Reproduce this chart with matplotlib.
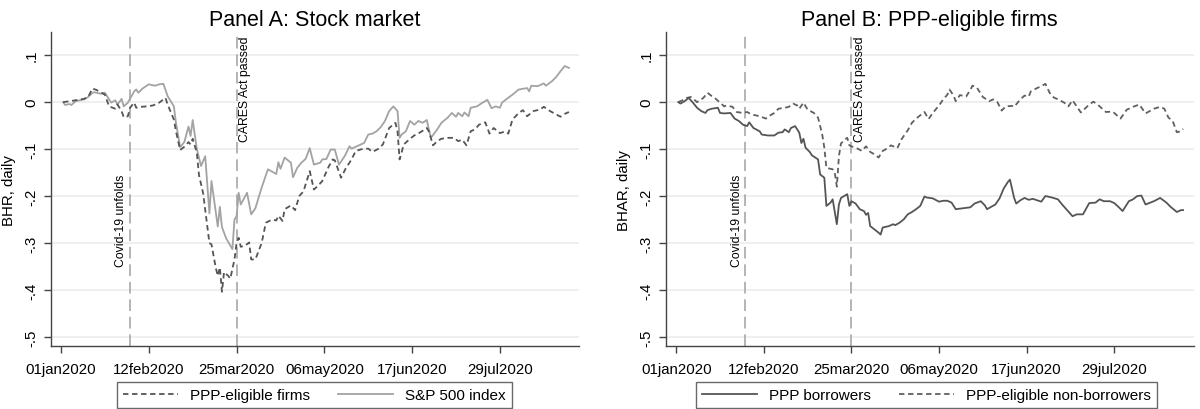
import numpy as np
import pandas as pd
import matplotlib
matplotlib.use("Agg")
import matplotlib.pyplot as plt

plt.rcParams['font.family'] = ['Liberation Sans', 'DejaVu Sans']

# days are counted from 01jan2020
start = pd.Timestamp('2020-01-01')
covid_day = 33
cares_day = 84
tick_days = [0, 42, 84, 126, 168, 210]
ytick_vals = [-0.5, -0.4, -0.3, -0.2, -0.1, 0.0, 0.1]
ytick_labels = ['-.5', '-.4', '-.3', '-.2', '-.1', '0', '.1']

# Panel A: S&P 500 index
sp_days = [1, 2, 4, 5, 7, 9, 11, 13, 15, 16, 19, 21, 23, 24, 26, 27, 29, 30, 32, 33,
           35, 36, 37, 39, 42, 45, 47, 49, 51, 54, 55, 57, 59, 61, 62, 63, 65, 67, 69, 71,
           72, 75, 76, 77, 79, 82, 83, 84, 85, 86, 89, 91, 93, 96, 99, 103, 104, 105, 107, 110,
           111, 113, 115, 117, 119, 121, 124, 125, 127, 129, 131, 133, 136, 138, 139, 141, 145, 147, 149, 151,
           153, 155, 157, 159, 161, 162, 163, 165, 167, 169, 171, 173, 175, 176, 177, 180, 182, 185, 187, 189,
           190, 192, 193, 195, 196, 199, 201, 204, 206, 208, 210, 211, 213, 216, 219, 223, 224, 225, 228, 231,
           232, 235, 237, 239, 241, 243]
sp_vals = [0.000, -0.006, -0.004, -0.006, 0.002, 0.004, 0.006, 0.011, 0.020, 0.021, 0.018, 0.020, 0.006, -0.001, 0.004, -0.005, 0.007, -0.009, -0.001, 0.007,
           0.023, 0.027, 0.020, 0.029, 0.038, 0.035, 0.038, 0.039, 0.013, -0.009, -0.044, -0.096, -0.085, -0.052, -0.072, -0.038, -0.100, -0.136, -0.115, -0.237,
           -0.168, -0.265, -0.223, -0.266, -0.290, -0.313, -0.250, -0.243, -0.193, -0.218, -0.193, -0.239, -0.226, -0.182, -0.143, -0.153, -0.128, -0.142, -0.118, -0.129,
           -0.160, -0.140, -0.129, -0.121, -0.098, -0.133, -0.129, -0.122, -0.121, -0.101, -0.101, -0.133, -0.113, -0.094, -0.099, -0.095, -0.087, -0.069, -0.067, -0.062,
           -0.053, -0.040, -0.019, -0.009, -0.019, -0.076, -0.069, -0.062, -0.040, -0.048, -0.040, -0.044, -0.038, -0.058, -0.076, -0.058, -0.044, -0.033, -0.023, -0.031,
           -0.023, -0.030, -0.022, -0.030, -0.012, -0.009, -0.003, 0.005, -0.013, -0.009, -0.012, -0.001, 0.006, 0.016, 0.027, 0.030, 0.023, 0.035, 0.034, 0.040,
           0.035, 0.045, 0.054, 0.066, 0.077, 0.073]

# Panel A: PPP-eligible firms
elig_days = [1, 4, 7, 11, 13, 15, 17, 19, 21, 23, 26, 27, 29, 30, 32, 33, 35, 36, 38, 41,
             44, 47, 50, 51, 54, 55, 57, 59, 61, 62, 63, 65, 66, 68, 71, 72, 74, 75, 76, 77,
             78, 80, 81, 83, 84, 85, 86, 88, 90, 91, 93, 96, 98, 101, 103, 104, 106, 107, 110, 112,
             114, 116, 119, 121, 123, 125, 128, 130, 131, 134, 136, 139, 141, 144, 147, 149, 152, 154, 157, 160,
             161, 162, 164, 167, 169, 172, 175, 176, 178, 180, 182, 185, 188, 190, 192, 194, 196, 198, 200, 203,
             205, 207, 210, 212, 214, 216, 219, 221, 223, 226, 229, 231, 234, 236, 239, 241, 243]
elig_vals = [0.000, 0.002, 0.004, 0.007, 0.011, 0.029, 0.026, 0.021, 0.016, -0.009, -0.014, -0.005, -0.019, -0.032, -0.030, -0.012, -0.001, -0.012, -0.010, -0.009,
             -0.007, -0.001, 0.009, -0.005, -0.037, -0.062, -0.102, -0.095, -0.085, -0.090, -0.078, -0.108, -0.155, -0.194, -0.300, -0.303, -0.352, -0.370, -0.352, -0.404,
             -0.362, -0.370, -0.376, -0.335, -0.300, -0.289, -0.308, -0.306, -0.299, -0.335, -0.335, -0.300, -0.257, -0.250, -0.252, -0.242, -0.253, -0.228, -0.220, -0.230,
             -0.200, -0.190, -0.147, -0.186, -0.178, -0.168, -0.138, -0.122, -0.124, -0.161, -0.143, -0.122, -0.104, -0.100, -0.099, -0.106, -0.099, -0.090, -0.055, -0.044,
             -0.062, -0.122, -0.090, -0.078, -0.071, -0.064, -0.055, -0.062, -0.092, -0.083, -0.078, -0.076, -0.076, -0.083, -0.080, -0.092, -0.062, -0.058, -0.048, -0.043,
             -0.067, -0.055, -0.066, -0.063, -0.067, -0.037, -0.023, -0.017, -0.030, -0.019, -0.016, -0.010, -0.019, -0.024, -0.031, -0.025, -0.021]

# Panel B: PPP borrowers
borr_days = [1, 2, 4, 6, 8, 10, 12, 14, 15, 17, 20, 21, 23, 26, 28, 30, 32, 34, 35, 37,
             40, 41, 44, 47, 49, 51, 52, 54, 55, 57, 59, 60, 61, 62, 64, 65, 68, 69, 71, 72,
             74, 75, 77, 78, 79, 82, 83, 84, 86, 88, 90, 91, 92, 93, 95, 97, 98, 99, 102, 104,
             105, 107, 109, 111, 113, 115, 117, 119, 120, 123, 126, 128, 130, 132, 134, 141, 143, 146, 148, 149,
             153, 155, 157, 159, 160, 162, 163, 165, 167, 169, 171, 173, 175, 177, 180, 183, 185, 187, 190, 192,
             195, 197, 198, 201, 203, 205, 208, 210, 212, 214, 217, 219, 221, 223, 225, 229, 232, 235, 237, 240,
             242, 243]
borr_vals = [0.000, -0.003, 0.002, 0.009, -0.001, -0.012, -0.019, -0.023, -0.017, -0.014, -0.012, -0.023, -0.024, -0.023, -0.035, -0.040, -0.048, -0.051, -0.043, -0.055,
             -0.062, -0.069, -0.071, -0.071, -0.065, -0.064, -0.058, -0.064, -0.055, -0.051, -0.065, -0.087, -0.078, -0.097, -0.106, -0.113, -0.122, -0.154, -0.161, -0.221,
             -0.214, -0.207, -0.260, -0.218, -0.204, -0.196, -0.221, -0.211, -0.216, -0.228, -0.232, -0.240, -0.236, -0.264, -0.271, -0.278, -0.282, -0.267, -0.264, -0.260,
             -0.262, -0.257, -0.250, -0.239, -0.234, -0.228, -0.221, -0.201, -0.203, -0.205, -0.212, -0.210, -0.210, -0.214, -0.228, -0.224, -0.216, -0.211, -0.220, -0.228,
             -0.218, -0.205, -0.184, -0.170, -0.165, -0.204, -0.216, -0.209, -0.204, -0.208, -0.206, -0.209, -0.212, -0.200, -0.203, -0.207, -0.218, -0.228, -0.243, -0.239,
             -0.239, -0.223, -0.215, -0.214, -0.207, -0.211, -0.211, -0.215, -0.223, -0.232, -0.211, -0.207, -0.200, -0.199, -0.218, -0.211, -0.204, -0.214, -0.223, -0.234,
             -0.230, -0.230]

# Panel B: PPP-eligible non-borrowers
nonb_days = [1, 3, 5, 7, 9, 10, 13, 15, 17, 19, 21, 23, 24, 27, 29, 32, 34, 36, 38, 40,
             43, 44, 47, 49, 52, 54, 56, 58, 59, 61, 63, 66, 68, 70, 71, 72, 75, 76, 77, 78,
             79, 81, 82, 83, 84, 87, 89, 91, 93, 95, 97, 99, 101, 103, 106, 108, 111, 113, 115, 117,
             119, 121, 123, 126, 128, 130, 131, 133, 134, 136, 139, 141, 142, 144, 147, 150, 152, 154, 156, 158,
             161, 162, 165, 167, 169, 170, 173, 175, 177, 179, 181, 183, 186, 188, 190, 192, 194, 195, 198, 200,
             202, 204, 206, 209, 210, 213, 216, 219, 222, 225, 229, 232, 234, 236, 238, 240, 242, 243]
nonb_vals = [0.000, 0.004, 0.009, 0.011, 0.004, 0.000, 0.009, 0.020, 0.013, 0.007, -0.001, -0.009, -0.007, -0.010, -0.021, -0.023, -0.021, -0.026, -0.028, -0.030,
             -0.035, -0.031, -0.023, -0.014, -0.012, -0.010, -0.003, -0.007, -0.014, -0.001, -0.016, -0.023, -0.033, -0.069, -0.097, -0.140, -0.143, -0.150, -0.180, -0.115,
             -0.088, -0.079, -0.076, -0.092, -0.094, -0.099, -0.104, -0.094, -0.106, -0.111, -0.118, -0.104, -0.099, -0.092, -0.098, -0.079, -0.060, -0.044, -0.035, -0.028,
             -0.021, -0.036, -0.023, -0.007, 0.006, 0.016, 0.027, 0.014, 0.002, 0.015, 0.012, 0.026, 0.035, 0.032, 0.011, 0.002, 0.006, 0.000, -0.018, -0.009,
             -0.008, -0.010, 0.006, 0.014, 0.012, 0.023, 0.030, 0.034, 0.039, 0.020, 0.010, 0.006, -0.001, -0.009, 0.004, -0.009, -0.022, -0.018, -0.005, 0.001,
             -0.005, -0.013, -0.021, -0.020, -0.023, -0.035, -0.016, -0.010, -0.005, -0.024, -0.014, -0.010, -0.014, -0.033, -0.040, -0.064, -0.062, -0.057]


def to_dates(days):
    return start + pd.to_timedelta(np.array(days, dtype=float), unit='D')


def setup_axes(ax, title, ylabel):
    ax.set_xlim(to_dates([-4.9])[0], to_dates([248])[0])
    ax.set_ylim(-0.52, 0.149)
    for y in ytick_vals:
        ax.axhline(y, color='#ebebeb', lw=1.1, zorder=0)
    for d in [covid_day, cares_day]:
        ax.axvline(to_dates([d])[0], color='#a8a8a8', lw=1.2, ls=(0, (7, 3.5)), zorder=1)
    ax.text(to_dates([covid_day - 1.2])[0], -0.35, 'Covid-19 unfolds', rotation=90,
            ha='right', va='bottom', fontsize=8.8)
    ax.text(to_dates([cares_day + 1.0])[0], -0.083, 'CARES Act passed', rotation=90,
            ha='left', va='bottom', fontsize=8.8)
    ax.set_yticks(ytick_vals)
    ax.set_yticklabels(ytick_labels, rotation=90, va='center')
    ticks = to_dates(tick_days)
    ax.set_xticks(ticks)
    ax.set_xticklabels([t.strftime('%d%b%Y').lower() for t in ticks])
    ax.tick_params(axis='both', labelsize=10.8, length=5, color='#444444', width=1)
    ax.tick_params(axis='y', pad=4)
    ax.tick_params(axis='x', pad=6)
    for s in ['top', 'right']:
        ax.spines[s].set_visible(False)
    for s in ['left', 'bottom']:
        ax.spines[s].set_color('#444444')
        ax.spines[s].set_linewidth(1.0)
    ax.set_title(title, fontsize=15.5, pad=5)
    ax.set_ylabel(ylabel, fontsize=10.8, labelpad=6)


fig = plt.figure(figsize=(12, 4.1), dpi=100)
axA = fig.add_axes([0.0423, 0.153, 0.4405, 0.766])
axB = fig.add_axes([0.555, 0.153, 0.4396, 0.766])

leg_kw = dict(ncol=2, loc='center', fontsize=11, frameon=True, fancybox=False,
              edgecolor='#444444', handlelength=3.6, columnspacing=1.8, borderpad=0.4,
              handletextpad=0.8, borderaxespad=0)

setup_axes(axA, 'Panel A: Stock market', 'BHR, daily')
lA1, = axA.plot(to_dates(elig_days), elig_vals, color='#555555', lw=1.3, ls=(0, (3, 2)), zorder=3)
lA2, = axA.plot(to_dates(sp_days), sp_vals, color='#a3a3a3', lw=1.3, zorder=2)
legA = fig.legend([lA1, lA2], ['PPP-eligible firms', 'S&P 500 index'],
                  bbox_to_anchor=(0.262, 0.034), **leg_kw)
legA.get_frame().set_linewidth(1.0)

setup_axes(axB, 'Panel B: PPP-eligible firms', 'BHAR, daily')
lB1, = axB.plot(to_dates(borr_days), borr_vals, color='#555555', lw=1.3, zorder=3)
lB2, = axB.plot(to_dates(nonb_days), nonb_vals, color='#606060', lw=1.3, ls=(0, (3, 2)), zorder=2)
legB = fig.legend([lB1, lB2], ['PPP borrowers', 'PPP-eligible non-borrowers'],
                  bbox_to_anchor=(0.772, 0.034), **leg_kw)
legB.get_frame().set_linewidth(1.0)

fig.savefig('out.png', dpi=100)
